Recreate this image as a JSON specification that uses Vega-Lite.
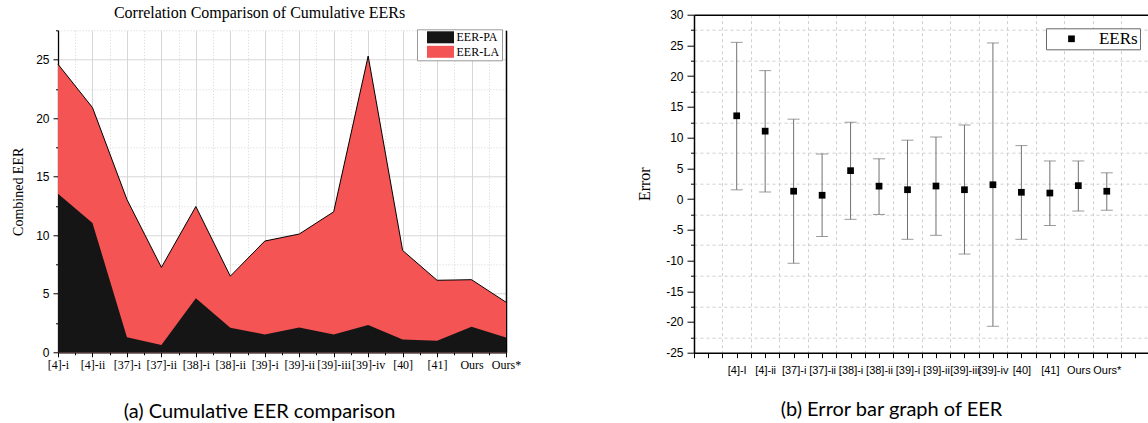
{
  "$schema": "https://vega.github.io/schema/vega-lite/v6.json",
  "background": "white",
  "padding": {"left": 11, "top": 4.7, "right": 0, "bottom": 0},
  "data": {"values": [
    {"idx": 0, "cl": "[4]-i", "cr": "[4]-I", "pa": 13.55, "total": 24.6, "lo": 1.5, "hi": 25.5},
    {"idx": 1, "cl": "[4]-ii", "cr": "[4]-ii", "pa": 11.05, "total": 20.9, "lo": 1.15, "hi": 20.9},
    {"idx": 2, "cl": "[37]-i", "cr": "[37]-i", "pa": 1.28, "total": 13.05, "lo": -10.45, "hi": 13.0},
    {"idx": 3, "cl": "[37]-ii", "cr": "[37]-ii", "pa": 0.62, "total": 7.25, "lo": -6.1, "hi": 7.35},
    {"idx": 4, "cl": "[38]-i", "cr": "[38]-i", "pa": 4.62, "total": 12.45, "lo": -3.3, "hi": 12.5},
    {"idx": 5, "cl": "[38]-ii", "cr": "[38]-ii", "pa": 2.1, "total": 6.5, "lo": -2.5, "hi": 6.55},
    {"idx": 6, "cl": "[39]-i", "cr": "[39]-i", "pa": 1.52, "total": 9.5, "lo": -6.55, "hi": 9.58},
    {"idx": 7, "cl": "[39]-ii", "cr": "[39]-ii", "pa": 2.12, "total": 10.1, "lo": -5.9, "hi": 10.1},
    {"idx": 8, "cl": "[39]-iii", "cr": "[39]-iii", "pa": 1.52, "total": 12.0, "lo": -8.95, "hi": 12.05},
    {"idx": 9, "cl": "[39]-iv", "cr": "[39]-iv", "pa": 2.33, "total": 25.3, "lo": -20.7, "hi": 25.4},
    {"idx": 10, "cl": "[40]", "cr": "[40]", "pa": 1.1, "total": 8.7, "lo": -6.55, "hi": 8.7},
    {"idx": 11, "cl": "[41]", "cr": "[41]", "pa": 0.98, "total": 6.15, "lo": -4.3, "hi": 6.2},
    {"idx": 12, "cl": "Ours", "cr": "Ours", "pa": 2.18, "total": 6.2, "lo": -1.95, "hi": 6.2},
    {"idx": 13, "cl": "Ours*", "cr": "Ours*", "pa": 1.27, "total": 4.28, "lo": -1.82, "hi": 4.27}
  ]},
  "spacing": 115,
  "resolve": {"scale": {"color": "independent"}, "legend": {"color": "independent"}},
  "hconcat": [
    {"vconcat": [
      {
        "width": 448,
        "height": 2,
        "data": {"values": [{"title": "Correlation Comparison of Cumulative EERs"}]},
        "mark": {"type": "text", "font": "Liberation Serif", "fontSize": 16, "color": "black", "align": "center", "baseline": "middle", "dx": -22.5, "dy": -2.2},
        "encoding": {"text": {"field": "title", "type": "nominal"}}
      },
      {
        "width": 448,
        "height": 322,
        "encoding": {
          "x": {"field": "idx", "type": "quantitative",
            "scale": {"domain": [0, 13], "nice": false, "zero": false},
            "axis": {
              "values": [0,0.5,1,1.5,2,2.5,3,3.5,4,4.5,5,5.5,6,6.5,7,7.5,8,8.5,9,9.5,10,10.5,11,11.5,12,12.5,13],
              "labelExpr": "datum.value % 1 == 0 ? ['[4]-i','[4]-ii','[37]-i','[37]-ii','[38]-i','[38]-ii','[39]-i','[39]-ii','[39]-iii','[39]-iv','[40]','[41]','Ours','Ours*'][datum.value] : ''",
              "labelFont": "Liberation Serif", "labelFontSize": 12, "labelColor": "black", "labelPadding": 3,
              "labelOverlap": false, "labelFlush": false, "labelBound": false,
              "grid": true, "gridColor": "#d6d6d6", "gridWidth": 1,
              "gridDash": {"condition": {"test": "datum.value % 1 != 0", "value": [1, 2]}, "value": []},
              "tickColor": "black", "tickWidth": 1,
              "tickSize": {"condition": {"test": "datum.value % 1 != 0", "value": 2.5}, "value": 4.5},
              "domainColor": "black", "domainWidth": 1.3,
              "title": "(a) Cumulative EER comparison", "titleFont": "Lato", "titleFontSize": 20, "titleFontWeight": "normal", "titleColor": "black",
              "titleX": 201, "titleAlign": "center", "titlePadding": 31
            }}
        },
        "layer": [
          {
            "mark": {"type": "area", "opacity": 1},
            "encoding": {
              "y": {"field": "total", "type": "quantitative",
                "scale": {"domain": [0, 27.5], "nice": false},
                "axis": {
                  "values": [0,2.5,5,7.5,10,12.5,15,17.5,20,22.5,25,27.5],
                  "labelExpr": "datum.value % 5 == 0 ? '' + datum.value : ''",
                  "labelFont": "Liberation Sans", "labelFontSize": 12, "labelColor": "black", "labelPadding": 4,
                  "grid": true, "gridColor": "#d6d6d6", "gridWidth": 1,
                  "gridDash": {"condition": {"test": "datum.value % 5 != 0", "value": [1, 2]}, "value": []},
                  "tickColor": "black", "tickWidth": 1,
                  "tickSize": {"condition": {"test": "datum.value % 5 != 0", "value": 2.5}, "value": 5},
                  "domainColor": "black", "domainWidth": 1.3,
                  "title": "Combined EER", "titleFont": "Liberation Serif", "titleFontSize": 14, "titleFontWeight": "normal", "titleColor": "black", "titlePadding": 10
                }},
              "color": {"datum": "EER-LA",
                "scale": {"domain": ["EER-PA", "EER-LA"], "range": ["#151515", "#F55454"]},
                "legend": {"title": null, "orient": "none", "legendX": 359, "legendY": 14.6,
                  "padding": 2, "rowPadding": 2.5,
                  "symbolType": "M-2.25,-1H2.25V1H-2.25Z", "symbolSize": 144, "symbolStrokeWidth": 0,
                  "symbolOffset": 15.5, "labelOffset": 10,
                  "labelFont": "Liberation Serif", "labelFontSize": 12, "labelColor": "black",
                  "strokeColor": "#9a9a9a", "fillColor": "white"}}
            }
          },
          {
            "mark": {"type": "area", "opacity": 1},
            "encoding": {
              "y": {"field": "pa", "type": "quantitative", "scale": {"domain": [0, 27.5], "nice": false}, "axis": null},
              "color": {"datum": "EER-PA", "scale": {"domain": ["EER-PA", "EER-LA"], "range": ["#151515", "#F55454"]}}
            }
          },
          {
            "mark": {"type": "line", "color": "black", "strokeWidth": 1},
            "encoding": {
              "y": {"field": "total", "type": "quantitative", "scale": {"domain": [0, 27.5], "nice": false},
                "axis": {"orient": "right", "labels": false, "ticks": false, "grid": false, "domainColor": "black", "domainWidth": 1.5, "title": null}}
            }
          }
        ],
        "resolve": {"axis": {"y": "independent"}}
      }
    ], "spacing": 7.6},
    {
      "width": 454,
      "height": 338,
      "layer": [
        {
          "mark": {"type": "rule", "color": "#707070", "strokeWidth": 1},
          "encoding": {
            "x": {"field": "idx", "type": "quantitative",
              "scale": {"domain": [-1.5, 14.447], "nice": false, "zero": false},
              "axis": {
                "values": [-1.5,-1,-0.5,0,0.5,1,1.5,2,2.5,3,3.5,4,4.5,5,5.5,6,6.5,7,7.5,8,8.5,9,9.5,10,10.5,11,11.5,12,12.5,13,13.5,14],
                "labelExpr": "datum.value % 1 == 0 && datum.value >= 0 && datum.value <= 13 ? ['[4]-I','[4]-ii','[37]-i','[37]-ii','[38]-i','[38]-ii','[39]-i','[39]-ii','[39]-iii','[39]-iv','[40]','[41]','Ours','Ours*'][datum.value] : ''",
                "labelFont": "Liberation Sans", "labelFontSize": 11, "labelColor": "black", "labelPadding": 7,
                "labelOverlap": false, "labelFlush": false, "labelBound": false,
                "grid": true, "gridColor": "#cfcfcf", "gridDash": [3, 3], "gridWidth": 1,
                "gridOpacity": {"condition": {"test": "datum.value % 1 != 0", "value": 1}, "value": 0},
                "tickColor": "black", "tickWidth": 1, "tickSize": 5,
                "domainColor": "black", "domainWidth": 1.5,
                "title": "(b) Error bar graph of EER", "titleFont": "Lato", "titleFontSize": 20, "titleFontWeight": "normal", "titleColor": "black",
                "titleX": 197, "titleAlign": "center", "titlePadding": 24
              }},
            "y": {"field": "lo", "type": "quantitative",
              "scale": {"domain": [-25, 30], "nice": false, "zero": false},
              "axis": {
                "values": [-25,-22.5,-20,-17.5,-15,-12.5,-10,-7.5,-5,-2.5,0,2.5,5,7.5,10,12.5,15,17.5,20,22.5,25,27.5,30],
                "labelExpr": "datum.value % 5 == 0 ? '' + datum.value : ''",
                "labelFont": "Liberation Sans", "labelFontSize": 12, "labelColor": "black", "labelPadding": 4,
                "grid": true, "gridColor": "#cfcfcf", "gridDash": [3, 3], "gridWidth": 1,
                "gridOpacity": {"condition": {"test": "datum.value % 5 != 0", "value": 1}, "value": 0},
                "tickColor": "black", "tickWidth": 1,
                "tickSize": {"condition": {"test": "datum.value % 5 != 0", "value": 3.5}, "value": 7},
                "domainColor": "black", "domainWidth": 1.5,
                "title": "Error", "titleFont": "Liberation Serif", "titleFontSize": 16, "titleFontWeight": "normal", "titleColor": "black", "titlePadding": 13
              }},
            "y2": {"field": "hi"}
          }
        },
        {
          "mark": {"type": "tick", "orient": "horizontal", "color": "#707070", "size": 12, "thickness": 1},
          "encoding": {
            "x": {"field": "idx", "type": "quantitative", "scale": {"domain": [-1.5, 14.447], "nice": false, "zero": false}, "axis": null},
            "y": {"field": "hi", "type": "quantitative", "scale": {"domain": [-25, 30], "nice": false, "zero": false}, "axis": null}
          }
        },
        {
          "mark": {"type": "tick", "orient": "horizontal", "color": "#707070", "size": 12, "thickness": 1},
          "encoding": {
            "x": {"field": "idx", "type": "quantitative", "scale": {"domain": [-1.5, 14.447], "nice": false, "zero": false}, "axis": null},
            "y": {"field": "lo", "type": "quantitative", "scale": {"domain": [-25, 30], "nice": false, "zero": false}, "axis": null}
          }
        },
        {
          "mark": {"type": "point", "shape": "square", "filled": true, "size": 45, "opacity": 1},
          "encoding": {
            "x": {"field": "idx", "type": "quantitative", "scale": {"domain": [-1.5, 14.447], "nice": false, "zero": false},
              "axis": {"orient": "top", "labels": false, "ticks": false, "grid": false, "domainColor": "black", "domainWidth": 1.5, "title": null}},
            "y": {"field": "pa", "type": "quantitative", "scale": {"domain": [-25, 30], "nice": false, "zero": false}, "axis": null},
            "color": {"datum": "EERs", "scale": {"range": ["black"]},
              "legend": {"title": null, "orient": "none", "legendX": 352, "legendY": 13.6,
                "padding": 2, "symbolType": "square", "symbolSize": 45, "symbolStrokeWidth": 0,
                "symbolOffset": 15, "labelOffset": 19,
                "labelFont": "Liberation Serif", "labelFontSize": 17, "labelColor": "black",
                "strokeColor": "#666666", "fillColor": "white"}}
          }
        }
      ],
      "resolve": {"axis": {"x": "independent", "y": "independent"}}
    }
  ],
  "config": {
    "view": {"stroke": null},
    "axis": {"labelColor": "black"}
  }
}
